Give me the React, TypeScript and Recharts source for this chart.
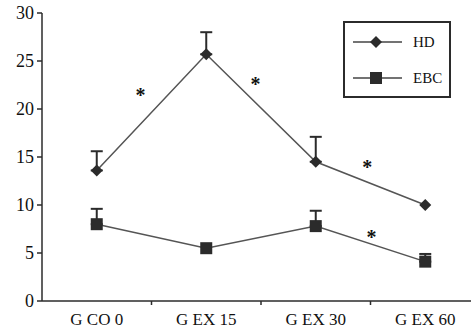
import { LineChart, Line, XAxis, YAxis, ErrorBar, ReferenceDot, Legend } from 'recharts';

const groups = ['G CO 0', 'G EX 15', 'G EX 30', 'G EX 60'];
const hdValues = [13.6, 25.7, 14.5, 10.0];
const hdErrors = [2.0, 2.3, 2.6, null];
const ebcValues = [8.0, 5.5, 7.8, 4.1];
const ebcErrors = [1.6, null, 1.6, 0.8];
const yTicks = [0, 5, 10, 15, 20, 25, 30];
// significance marks placed between groups
const starX = [0.4, 1.45, 2.47, 2.51];
const starY = [21.5, 22.6, 14.0, 6.7];

const chartData = groups.map((g, i) => ({
  x: i,
  group: g,
  hd: hdValues[i],
  hdErr: hdErrors[i] == null ? null : [0, hdErrors[i]],
  ebc: ebcValues[i],
  ebcErr: ebcErrors[i] == null ? null : [0, ebcErrors[i]],
}));

const FONT = 'Liberation Serif, Times New Roman, serif';
const INK = '#2b2b2b';

const Diamond = (props: any) => {
  const { cx, cy } = props;
  if (cx == null || cy == null) return null;
  const r = 6;
  return <path d={`M${cx},${cy - r}L${cx + r},${cy}L${cx},${cy + r}L${cx - r},${cy}Z`} fill={INK} />;
};

const Square = (props: any) => {
  const { cx, cy } = props;
  if (cx == null || cy == null) return null;
  return <rect x={cx - 6} y={cy - 6} width={12} height={12} fill={INK} />;
};

const XTick = (props: any) => {
  const { x, y, payload } = props;
  const v = payload.value;
  if (v % 1 !== 0) {
    return <line x1={x} x2={x} y1={y} y2={y + 4} stroke={INK} strokeWidth={1.5} />;
  }
  return (
    <text x={x} y={y + 24} textAnchor="middle" style={{ fontFamily: FONT }} fontSize={17} fill="#111">
      {groups[v]}
    </text>
  );
};

const YTick = (props: any) => {
  const { x, y, payload } = props;
  return (
    <text x={x} y={y + 6} textAnchor="end" style={{ fontFamily: FONT }} fontSize={18} fill="#111">
      {payload.value}
    </text>
  );
};

const LegendBox = () => (
  <div
    style={{
      width: 104,
      height: 73,
      border: `2px solid ${INK}`,
      background: '#fff',
      fontFamily: FONT,
      fontSize: 15,
      color: '#111',
    }}
  >
    {[
      { name: 'HD', Icon: Diamond },
      { name: 'EBC', Icon: Square },
    ].map(({ name, Icon }, i) => (
      <div key={name} style={{ display: 'flex', alignItems: 'center', height: 36, marginTop: i === 0 ? 1 : 0 }}>
        <svg width={62} height={16} style={{ marginLeft: 6 }}>
          <line x1={2} x2={51} y1={8} y2={8} stroke="#444" strokeWidth={1.5} />
          <Icon cx={25} cy={8} />
        </svg>
        <span>{name}</span>
      </div>
    ))}
  </div>
);

export default function App() {
  return (
    <div style={{ position: 'absolute', left: 0, top: 0, width: 471, height: 334, overflow: 'hidden', background: '#fff', fontFamily: FONT }}>
      <LineChart width={480} height={334} data={chartData} margin={{ top: 13, right: 0, left: 0, bottom: 0 }}>
        <XAxis
          dataKey="x"
          type="number"
          domain={[-0.5, 3.5]}
          ticks={[0, 0.5, 1, 1.5, 2, 2.5, 3]}
          tick={<XTick />}
          tickLine={false}
          tickSize={0}
          tickMargin={0}
          height={33}
          interval={0}
          axisLine={{ stroke: INK, strokeWidth: 1.5 }}
        />
        <YAxis
          domain={[0, 30]}
          ticks={yTicks}
          width={42}
          interval={0}
          tickSize={5}
          tickMargin={3}
          axisLine={{ stroke: INK, strokeWidth: 1.5 }}
          tickLine={{ stroke: INK, strokeWidth: 1.5 }}
          tick={<YTick />}
        />
        <Legend
          content={<LegendBox />}
          layout="vertical"
          align="center"
          verticalAlign="middle"
          wrapperStyle={{ position: 'absolute', left: 343, top: 21, width: 'auto' }}
        />
        <Line
          dataKey="hd"
          name="HD"
          stroke="#555"
          strokeWidth={1.5}
          dot={<Diamond />}
          activeDot={false}
          isAnimationActive={false}
        >
          <ErrorBar dataKey="hdErr" direction="y" width={6} stroke={INK} strokeWidth={2} />
        </Line>
        <Line
          dataKey="ebc"
          name="EBC"
          stroke="#555"
          strokeWidth={1.5}
          dot={<Square />}
          activeDot={false}
          isAnimationActive={false}
        >
          <ErrorBar dataKey="ebcErr" direction="y" width={6} stroke={INK} strokeWidth={2} />
        </Line>
        {starX.map((sx, i) => (
          <ReferenceDot
            key={i}
            x={sx}
            y={starY[i]}
            r={0}
            fill="none"
            stroke="none"
            ifOverflow="visible"
            label={{ value: '*', position: 'center', fontSize: 20, fontWeight: 'bold', style: { fontFamily: FONT }, fill: '#111' }}
          />
        ))}
      </LineChart>
    </div>
  );
}
